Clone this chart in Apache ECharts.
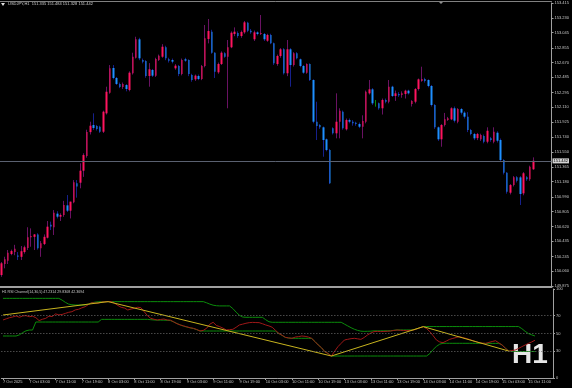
<!DOCTYPE html>
<html><head><meta charset="utf-8">
<script src="https://cdn.jsdelivr.net/npm/echarts@6/dist/echarts.min.js"></script>
<style>html,body{margin:0;padding:0;background:#000;}#c{width:572px;height:388px;}</style>
</head><body><div id="c"></div>
<script>
// ---------- data ----------
const opens = [150.012,150.150,150.191,150.275,150.300,150.255,150.240,150.300,150.350,150.484,
150.490,150.520,150.346,150.400,150.479,150.640,150.609,150.780,150.742,150.763,
150.884,150.817,150.922,151.160,151.167,151.317,151.500,151.800,151.889,151.876,
151.867,151.805,152.035,152.293,152.602,152.477,152.402,152.364,152.389,152.327,
152.536,152.731,152.961,152.702,152.689,152.502,152.577,152.506,152.702,152.743,
152.861,152.711,152.702,152.598,152.627,152.527,152.711,152.702,152.514,152.460,
152.502,152.464,152.627,152.965,153.056,152.793,152.548,152.652,152.786,152.743,
152.861,153.027,153.040,153.002,153.048,153.168,153.068,152.961,153.048,153.027,
153.027,152.943,153.015,152.911,152.652,152.752,152.836,152.536,152.836,152.639,
152.786,152.711,152.627,152.543,152.652,152.452,151.930,151.889,151.860,151.710,
151.576,151.847,151.785,151.930,152.055,151.835,151.951,151.930,151.918,151.901,
151.867,151.930,152.285,152.335,152.160,152.160,152.098,152.202,152.180,152.368,
152.252,152.277,152.264,152.277,152.318,152.151,152.180,152.339,152.440,152.464,
152.452,152.377,152.139,151.860,151.710,151.889,151.951,151.960,152.098,151.930,
152.089,152.043,151.993,151.826,151.776,151.725,151.710,151.751,151.680,151.722,
151.680,151.792,151.701,151.451,151.292,151.042,151.138,151.234,151.234,151.034,
151.234,151.209,151.335];
const closes = [150.159,150.209,150.291,150.312,150.340,150.240,150.310,150.360,150.484,150.500,
150.520,150.346,150.409,150.490,150.617,150.620,150.792,150.742,150.763,150.888,
150.817,150.930,151.172,151.120,151.317,151.513,151.800,151.880,151.851,151.839,
151.805,152.055,152.305,152.598,152.477,152.402,152.364,152.402,152.339,152.543,
152.743,152.961,152.723,152.681,152.502,152.586,152.506,152.714,152.756,152.868,
152.723,152.694,152.681,152.631,152.527,152.702,152.694,152.527,152.452,152.506,
152.464,152.627,152.973,153.065,152.793,152.555,152.652,152.793,152.743,152.861,
153.043,153.056,153.002,153.052,153.173,153.068,153.048,153.048,153.027,153.040,
152.961,153.015,152.911,152.661,152.752,152.836,152.536,152.836,152.639,152.786,
152.723,152.627,152.543,152.652,152.452,151.930,151.876,151.860,151.701,151.576,
151.159,151.785,151.930,152.068,151.847,151.951,151.930,151.910,151.901,151.867,
151.939,152.305,152.335,152.160,152.160,152.098,152.202,152.180,152.368,152.252,
152.285,152.260,152.285,152.318,152.285,152.189,152.339,152.460,152.464,152.440,
152.377,152.139,151.860,151.710,151.889,151.960,151.973,152.098,151.943,152.089,
152.043,151.993,151.826,151.776,151.722,151.776,151.764,151.680,151.817,151.701,
151.805,151.692,151.451,151.292,151.054,151.138,151.234,151.192,151.026,151.285,
151.209,151.367,151.442];
const lows = [149.990,150.096,150.150,150.260,150.260,150.200,150.200,150.280,150.325,150.366,
150.325,150.330,150.240,150.387,150.470,150.575,150.513,150.720,150.688,150.740,
150.800,150.720,150.910,150.980,151.097,151.240,151.480,151.770,151.826,151.820,
151.790,151.789,152.020,152.280,152.460,152.390,152.350,152.340,152.310,152.310,
152.520,152.720,152.700,152.660,152.480,152.368,152.490,152.490,152.690,152.730,
152.700,152.670,152.660,152.580,152.500,152.510,152.680,152.500,152.430,152.440,
152.450,152.450,152.610,152.910,152.780,152.477,152.530,152.640,152.730,152.098,
152.850,153.000,152.980,152.980,153.030,153.050,153.030,152.940,153.010,153.015,
152.940,152.930,152.900,152.640,152.630,152.730,152.520,152.500,152.368,152.620,
152.710,152.610,152.530,152.530,152.440,151.910,151.701,151.840,151.492,151.560,
151.150,151.770,151.722,151.722,151.830,151.820,151.910,151.880,151.880,151.850,
151.722,151.910,152.270,152.140,152.118,152.080,152.020,152.160,152.160,152.240,
152.190,152.240,152.230,152.220,152.270,152.120,152.160,152.320,152.430,152.420,
152.360,152.120,151.840,151.690,151.617,151.870,151.940,151.950,151.920,151.910,
152.020,151.970,151.800,151.760,151.700,151.700,151.690,151.660,151.660,151.680,
151.660,151.670,151.430,151.270,151.030,151.020,151.120,151.170,150.888,151.010,
151.190,151.190,151.328];
const highs = [150.175,150.241,150.325,150.330,150.390,150.300,150.375,150.380,150.610,150.596,
150.525,150.535,150.437,150.520,150.688,150.680,150.825,150.810,150.784,150.940,
151.013,150.930,151.200,151.200,151.410,151.535,151.830,151.930,152.035,151.890,
151.880,152.068,152.368,152.639,152.639,152.490,152.420,152.420,152.400,152.560,
152.793,152.993,152.980,152.720,152.700,152.663,152.590,152.730,152.770,152.900,
152.880,152.730,152.720,152.650,152.640,152.720,152.730,152.710,152.530,152.520,
152.520,152.640,153.140,153.215,153.080,152.800,152.670,152.810,152.800,152.952,
153.060,153.110,153.060,153.070,153.190,153.180,153.090,153.070,153.060,153.265,
153.040,153.030,153.030,152.920,152.770,152.850,152.850,152.952,152.850,152.800,
152.800,152.720,152.640,152.660,152.660,152.460,152.180,151.900,151.870,151.720,
151.590,151.860,152.285,152.098,152.070,151.970,151.970,151.950,151.930,151.920,
152.010,152.320,152.452,152.350,152.202,152.170,152.220,152.220,152.452,152.380,
152.320,152.300,152.310,152.330,152.330,152.200,152.350,152.470,152.618,152.480,
152.460,152.390,152.150,151.870,151.900,152.040,151.990,152.110,152.120,152.100,
152.100,152.060,152.050,151.840,151.790,151.790,151.780,151.770,151.860,151.740,
151.860,151.810,151.720,151.460,151.300,151.150,151.250,151.250,151.250,151.300,
151.250,151.380,151.484];

const rsi = [65.2,66.5,67.8,68.6,69.7,68.2,69.7,70.1,68.9,69.4,
67.8,64.5,66.0,67.0,69.5,69.0,72.0,71.0,71.4,72.6,
73.8,74.5,76.5,77.2,78.8,80.1,82.5,84.6,84.2,84.0,
85.4,85.6,85.8,85.9,84.0,81.5,79.4,78.6,76.4,77.5,
78.3,79.5,79.0,74.5,70.0,67.0,66.0,65.2,65.8,66.3,
65.2,65.0,63.0,61.0,59.6,58.5,57.5,56.5,55.8,54.5,
52.8,53.5,55.8,60.5,62.6,59.0,57.7,56.0,54.0,54.3,
54.7,57.0,59.6,60.5,61.5,62.2,62.5,62.3,62.2,61.0,
59.6,58.5,57.0,53.5,50.2,48.0,45.7,45.0,44.6,46.0,
46.5,47.2,46.8,46.0,44.6,41.0,37.1,34.0,29.6,27.5,
24.7,30.0,35.2,39.0,42.7,43.5,44.2,44.6,44.0,43.4,
45.5,48.3,50.5,52.1,52.4,52.1,52.3,52.5,52.8,53.4,
53.9,53.6,53.4,53.2,53.5,53.9,55.0,56.5,57.7,55.5,
52.1,47.5,42.7,40.5,39.7,41.5,43.4,44.5,45.5,46.4,
45.5,44.5,43.4,42.0,40.8,39.7,39.2,38.9,40.0,41.0,
41.9,39.5,37.1,33.5,30.3,30.8,31.5,33.2,35.2,37.0,
38.9,40.5,42.4];
const upperBand = [89.5,89.5,89.5,89.5,89.5,89.5,89.5,89.5,89.5,89.5,
89.5,89.5,89.5,89.5,89.5,89.5,89.5,89.5,87.5,85.0,
83.0,82.3,82.0,82.0,82.0,82.0,83.0,84.5,85.2,85.6,
85.8,85.8,85.8,85.8,85.8,85.8,85.8,85.8,85.8,85.8,
85.8,85.8,85.8,85.8,85.8,85.8,85.8,85.8,85.8,85.8,
85.8,85.8,85.8,85.8,85.8,85.8,85.8,85.8,85.8,85.8,
85.8,85.8,84.5,83.0,81.8,81.2,81.0,81.0,81.0,81.0,
78.0,74.0,70.5,68.5,68.2,68.2,68.2,68.2,68.2,68.2,
65.5,63.2,62.6,62.6,62.6,62.6,62.6,62.6,62.6,62.6,
62.6,62.6,62.6,62.6,62.6,62.6,62.6,62.6,62.6,62.6,
62.6,62.6,62.6,62.6,60.5,58.5,56.5,54.8,53.5,52.6,
52.4,52.5,52.6,53.0,53.0,53.0,53.0,53.0,53.0,53.6,
54.0,54.0,54.0,54.0,54.0,54.2,55.2,56.6,57.8,57.8,
57.8,57.8,57.8,57.8,57.8,57.8,57.8,57.8,57.8,57.8,
57.8,57.8,57.8,57.8,57.8,57.8,57.8,57.8,57.8,57.8,
57.8,57.8,57.8,57.8,57.8,57.8,57.8,57.8,55.5,52.5,
50.0,48.5,47.2];
const lowerBand = [47.2,47.2,47.2,47.2,47.2,48.5,51.0,53.0,53.9,53.9,
62.9,62.9,62.9,62.9,62.9,62.9,62.9,62.9,62.9,62.9,
62.9,62.9,62.9,62.9,62.9,62.9,62.9,62.9,62.9,62.9,
65.9,65.9,65.9,65.9,65.9,65.9,65.9,65.9,65.9,65.9,
65.9,65.9,65.9,65.9,65.9,65.5,65.2,65.0,65.0,65.0,
64.8,64.5,63.0,61.2,59.6,58.3,57.2,56.3,55.6,54.3,
52.8,52.8,52.8,52.8,52.8,52.8,52.8,52.8,52.8,52.8,
52.8,52.8,52.8,52.8,52.8,52.8,52.8,52.8,52.8,52.8,
52.8,52.8,52.8,52.6,50.0,47.8,45.6,44.9,44.6,44.6,
44.6,44.6,44.6,44.6,44.4,41.0,37.1,34.0,29.6,27.5,
24.7,24.7,24.7,24.7,24.7,24.7,24.7,24.7,24.7,24.7,
24.7,24.7,24.7,24.7,24.7,24.7,24.7,24.7,24.7,24.7,
24.7,24.7,24.7,24.7,24.7,24.7,24.7,24.7,24.7,24.7,
27.5,32.0,35.5,38.0,39.0,39.0,39.0,39.0,39.0,39.0,
39.0,39.0,39.0,39.0,39.0,38.9,38.9,38.9,38.9,38.9,
38.9,38.9,37.1,33.5,30.3,29.8,29.8,29.8,29.8,29.8,
29.8,29.8,29.8];
// zigzag pivots: [bar index, value]
const zigzagPivots = [[0,70.8],[32,85.8],[100,24.7],[128,57.7],[154,30.3]];

const priceTicks = [149.875,150.060,150.245,150.435,150.620,150.805,150.990,151.180,151.365,151.550,
151.740,151.925,152.110,152.295,152.485,152.670,152.855,153.045,153.230,153.415];
const rsiTicks = [0,30,50,70,100];
const rsiLevels = [30,50,70];
const timeTickLabels = ['7 Oct 03:00','7 Oct 11:00','7 Oct 19:00','8 Oct 03:00','8 Oct 11:00','8 Oct 19:00',
'9 Oct 03:00','9 Oct 11:00','9 Oct 19:00','10 Oct 03:00','10 Oct 11:00','10 Oct 19:00',
'13 Oct 03:00','13 Oct 11:00','13 Oct 19:00','14 Oct 03:00','14 Oct 11:00','14 Oct 19:00',
'15 Oct 03:00','15 Oct 11:00'];
const firstDateLabel = '7 Oct 2025';
const tradingDays = [['6 Oct',19,23],['7 Oct',0,23],['8 Oct',0,23],['9 Oct',0,23],['10 Oct',0,23],
['13 Oct',0,23],['14 Oct',0,23],['15 Oct',0,13]];
const bidPrice = 151.442;
const symbolInfo = 'USDJPY,H1  151.335 151.484 151.328 151.442';
const indicatorInfo = 'H1 RSI Channel(14,30,5) 47.2314 29.8308 42.3694';
const timeframeLabel = 'H1';

// ---------- build ----------
const categories = [];
tradingDays.forEach(([d, a, b]) => { for (let h = a; h <= b; h++) categories.push(d + ' ' + (h < 10 ? '0' + h : h) + ':00'); });
const axisCats = categories.concat(['_s1','_s2','_s3','_s4','_s5']); // chart shift space
const tickSet = new Set(timeTickLabels);

const wickData = opens.map((o, i) => [o, closes[i], lows[i], highs[i]]);
const bodyData = opens.map((o, i) => [o, closes[i], Math.min(o, closes[i]), Math.max(o, closes[i])]);

const FONT = 'Liberation Sans';
const TXT = '#c8c8c8';
const AX = '#a0a0a0';
const L = -1.4, R = 19;

const chart = echarts.init(document.getElementById('c'), null, {renderer: 'canvas'});
chart.setOption({
  backgroundColor: '#000',
  animation: false,
  grid: [
    {left: L, right: R, top: 3, height: 283},
    {left: L, right: R, top: 289, height: 89}
  ],
  xAxis: [
    {type: 'category', gridIndex: 0, data: axisCats, position: 'bottom', offset: 1,
      axisLine: {show: true, lineStyle: {color: AX, width: 2}}, axisTick: {show: false}, axisLabel: {show: false}, splitLine: {show: false}},
    {type: 'category', gridIndex: 0, data: axisCats, position: 'top', offset: 2,
      axisLine: {show: true, lineStyle: {color: '#808080', width: 1}}, axisTick: {show: false}, axisLabel: {show: false}},
    {type: 'category', gridIndex: 1, data: axisCats, position: 'bottom',
      axisLine: {show: true, lineStyle: {color: AX, width: 1}},
      axisTick: {show: true, length: 2, alignWithLabel: true, lineStyle: {color: AX},
        interval: (idx, v) => idx === 0 || tickSet.has(v)},
      axisLabel: {show: true, interval: (idx, v) => idx === 0 || tickSet.has(v),
        formatter: (v, idx) => idx === 0 ? firstDateLabel : v,
        align: 'left', margin: 2, fontSize: 4, color: TXT, fontFamily: FONT},
      splitLine: {show: false}}
  ],
  yAxis: [
    {type: 'value', gridIndex: 0, min: 149.875, max: 153.415, position: 'right', scale: true,
      axisLine: {show: true, lineStyle: {color: AX}},
      axisTick: {show: true, length: 2, customValues: priceTicks, lineStyle: {color: AX}},
      axisLabel: {show: true, customValues: priceTicks, formatter: v => v.toFixed(3), margin: 3,
        fontSize: 4, color: TXT, fontFamily: FONT},
      splitLine: {show: false}},
    {type: 'value', gridIndex: 1, min: 0, max: 100, position: 'right',
      axisLine: {show: true, lineStyle: {color: AX}},
      axisTick: {show: true, length: 2, customValues: rsiTicks, lineStyle: {color: AX}},
      axisLabel: {show: true, customValues: rsiTicks, margin: 3, fontSize: 4, color: TXT, fontFamily: FONT},
      splitLine: {show: false}}
  ],
  series: [
    {type: 'candlestick', name: 'wick', xAxisIndex: 0, yAxisIndex: 0, data: wickData, barWidth: 1, silent: true,
      itemStyle: {color: '#6a1263', color0: '#16208c', borderColor: '#6a1263', borderColor0: '#16208c',
        borderColorDoji: '#0a8a0a', borderWidth: 1}},
    {type: 'candlestick', name: 'body', xAxisIndex: 0, yAxisIndex: 0, data: bodyData, barWidth: 2, silent: true,
      itemStyle: {color: '#ff145f', color0: '#1e8fff', borderColor: '#ff145f', borderColor0: '#1e8fff',
        borderColorDoji: '#0a8a0a', borderWidth: 0},
      markLine: {silent: true, symbol: 'none', animation: false,
        lineStyle: {color: '#5a6170', type: 'solid', width: 1},
        label: {show: true, position: 'end', distance: 1, formatter: bidPrice.toFixed(3), fontSize: 4, fontFamily: FONT,
          color: '#000', backgroundColor: '#d4d4d4', padding: [1, 1, 0, 1]},
        data: [{yAxis: bidPrice}]}},
    {type: 'line', name: 'upper', xAxisIndex: 2, yAxisIndex: 1, data: upperBand, symbol: 'none', silent: true,
      lineStyle: {color: '#0b8c0b', width: 1}},
    {type: 'line', name: 'lower', xAxisIndex: 2, yAxisIndex: 1, data: lowerBand, symbol: 'none', silent: true,
      lineStyle: {color: '#0b8c0b', width: 1}},
    {type: 'line', name: 'rsi', xAxisIndex: 2, yAxisIndex: 1, data: rsi, symbol: 'none', silent: true,
      lineStyle: {color: '#a01818', width: 1},
      markLine: {silent: true, symbol: 'none', animation: false, label: {show: false},
        lineStyle: {color: '#6e6e6e', type: [1, 2], width: 1},
        data: rsiLevels.map(v => ({yAxis: v}))}},
    {type: 'line', name: 'zigzag', xAxisIndex: 2, yAxisIndex: 1, data: zigzagPivots, symbol: 'none', silent: true,
      lineStyle: {color: '#c8b41e', width: 1}}
  ],
  graphic: [
    {type: 'polygon', shape: {points: [[1, 3], [5, 3], [3, 6]]}, style: {fill: '#e0e0e0'}},
    {type: 'text', left: 8, top: 2, style: {text: symbolInfo, fill: '#d0d0d0', font: '4px "Liberation Sans"'}},
    {type: 'polygon', shape: {points: [[438, 1], [444, 1], [441, 4]]}, style: {fill: '#909090'}},
    {type: 'text', left: 2, top: 290, style: {text: indicatorInfo, fill: TXT, font: '3.6px "Liberation Sans"'}},
    {type: 'text', left: 512, top: 341, style: {text: timeframeLabel, fill: '#e6e6e6', font: 'bold 28px "Liberation Sans"'}}
  ]
});
</script></body></html>
